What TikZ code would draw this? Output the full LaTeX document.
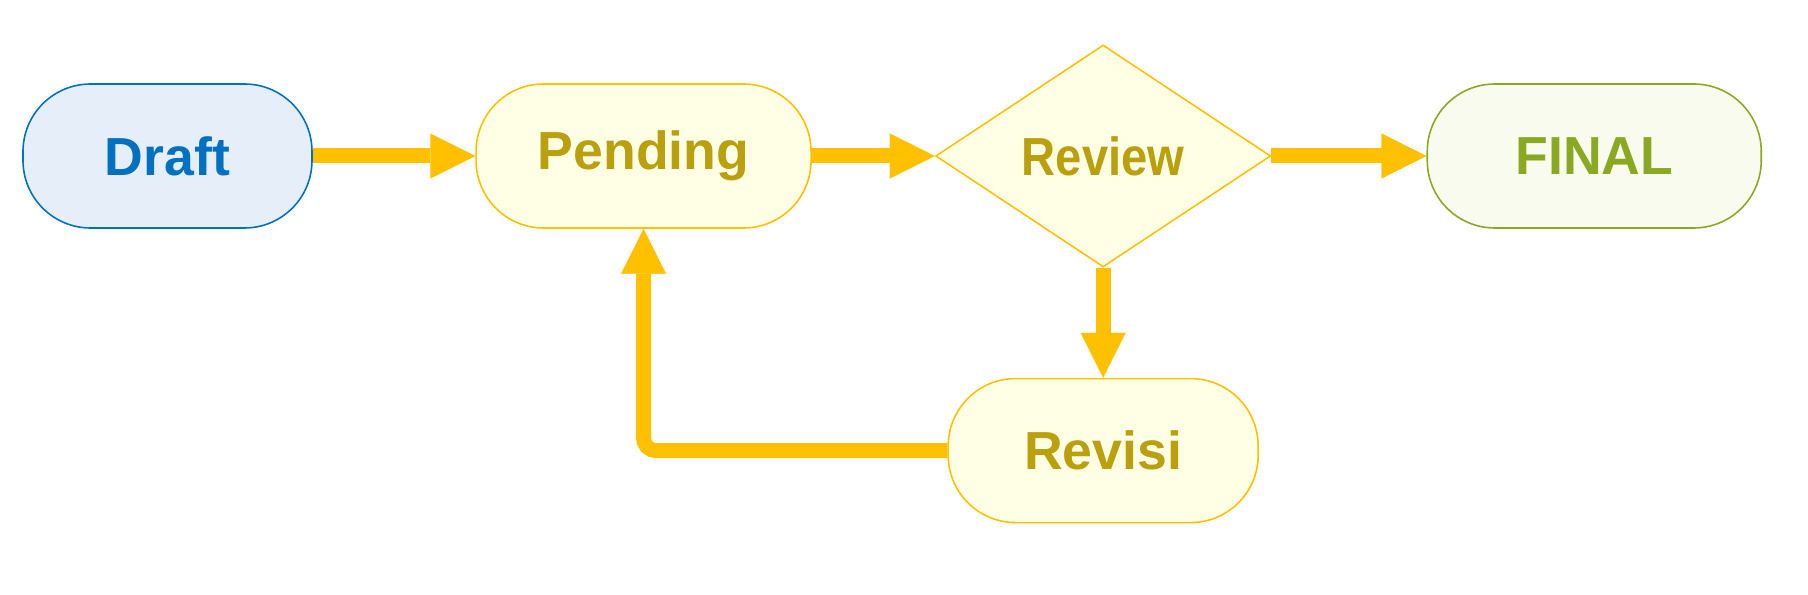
\documentclass[tikz,border=0pt]{standalone}
\usepackage{fontspec}
\setmainfont{Liberation Sans}
\usepackage{xcolor}
\usetikzlibrary{arrows.meta,positioning,shapes.geometric}

\definecolor{draftblue}{HTML}{0070C0}
\definecolor{draftfill}{HTML}{E6EEF9}
\definecolor{flowgold}{HTML}{FFC000}
\definecolor{goldfill}{HTML}{FFFFE5}
\definecolor{goldtext}{HTML}{B9A00C}
\definecolor{finalgreen}{HTML}{8BA823}
\definecolor{finalfill}{HTML}{F8FBEE}

\begin{document}
\begin{tikzpicture}[
    node distance=3.25cm,
    stage/.style={draw, line width=0.9pt, rounded corners=1.35cm, minimum width=6.7cm, minimum height=2.88cm,
      align=center, font=\bfseries\fontsize{30.5}{34}\selectfont},
    goldstage/.style={stage, draw=flowgold, fill=goldfill, text=goldtext},
    decision/.style={diamond, draw=flowgold, fill=goldfill, text=goldtext, line width=0.9pt, inner sep=0pt,
      minimum width=6.7cm, minimum height=4.44cm, font=\bfseries\fontsize{30.5}{34}\selectfont},
    arrow/.style={-{Triangle[length=0.9cm, width=0.9cm, line width=0.1pt]}, line width=0.3cm, draw=flowgold}
  ]
    \useasboundingbox (0,0) rectangle (36.16,-11.9);
    \node[stage, draw=draftblue, fill=draftfill, text=draftblue, minimum width=5.78cm] (draft) at (3.35,-3.12) {Draft};
    \node[goldstage, right=of draft] (pending) {Pending};
    \node[decision, right=2.46cm of pending] (review) {\scalebox{0.88}[1]{Review}};
    \node[stage, draw=finalgreen, fill=finalfill, text=finalgreen, minimum width=6.68cm, right=3.1cm of review] (final) {FINAL};
    \node[goldstage, minimum width=6.2cm, below=2.2cm of review] (revisi) {Revisi};
    \draw[arrow] (draft) -- (pending);
    \draw[arrow] (pending) -- (review);
    \draw[arrow] (review) -- (final);
    \draw[arrow] (review) -- (revisi);
    \draw[arrow, rounded corners=0.25cm] (revisi.west) -| (pending.south);
  \end{tikzpicture}
\end{document}
